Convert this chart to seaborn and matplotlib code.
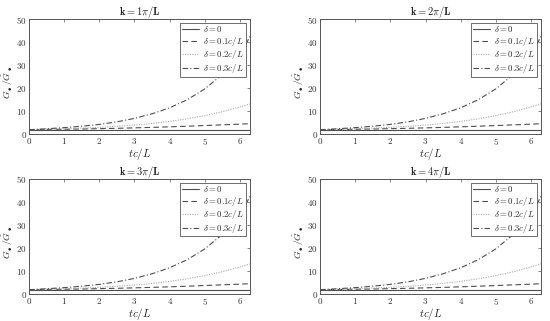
import numpy as np
import pandas as pd
import seaborn as sns
import matplotlib
matplotlib.use("Agg")
from matplotlib import pyplot as plt
from matplotlib.ticker import FuncFormatter

# values (same curves in every panel)
tc_L = [0, 0.5, 1, 1.5, 2, 2.5, 3, 3.5, 4, 4.5, 5, 5.5, 6, 6.2832]
delta_0 = [2.0] * 14
delta_01 = [2.0, 2.1, 2.2, 2.3, 2.45, 2.6, 2.8, 3.0, 3.25, 3.5, 3.8, 4.1, 4.4, 4.6]
delta_02 = [2.0, 2.2, 2.4, 2.7, 3.0, 3.5, 4.0, 4.7, 5.6, 6.7, 8.1, 9.8, 11.9, 13.2]
delta_03 = [2.0, 2.4, 2.9, 3.5, 4.3, 5.4, 6.9, 8.9, 11.5, 15.0, 19.7, 26.0, 34.0, 42.5]

k_values = [1, 2, 3, 4]
series_labels = [r'$\delta = 0$', r'$\delta = 0.1c/L$', r'$\delta = 0.2c/L$', r'$\delta = 0.3c/L$']
series_values = [delta_0, delta_01, delta_02, delta_03]
styles = [('#4d4d4d', '-'), ('#4d4d4d', (0, (5, 3))), ('#a8a8a8', (0, (1, 1.2))), ('#4d4d4d', (0, (5, 2, 1, 2)))]

sns.set_style("white")
plt.rcParams['mathtext.fontset'] = 'cm'
plt.rcParams['font.family'] = ['DejaVu Serif']
plt.rcParams['axes.edgecolor'] = '#555555'
plt.rcParams['axes.linewidth'] = 0.7

fig = plt.figure(figsize=(5.5, 3.21), dpi=100)
positions = [(0.0527, 0.5816), (0.5818, 0.5816), (0.0527, 0.0832), (0.5818, 0.0832)]
w, h = 0.4018, 0.3592

mfmt = FuncFormatter(lambda v, p: '$%g$' % v)

for k, (lx, by) in zip(k_values, positions):
    ax = fig.add_axes([lx, by, w, h])
    for lab, vals, (col, ls) in zip(series_labels, series_values, styles):
        df = pd.DataFrame({'t': tc_L, 'G': vals})
        sns.lineplot(data=df, x='t', y='G', ax=ax, color=col, linestyle=ls,
                     linewidth=0.8, label=lab)
    ax.set_xlim(0, 2 * np.pi)
    ax.set_ylim(0, 50)
    ax.set_xticks(range(0, 7))
    ax.set_yticks(range(0, 51, 10))
    ax.xaxis.set_major_formatter(mfmt)
    ax.yaxis.set_major_formatter(mfmt)
    ax.tick_params(direction='in', top=True, right=True, length=2.5, width=0.5,
                   labelsize=6.5, colors='#555555', labelcolor='#333333', pad=1.5)
    ax.set_xlabel(r'$tc/L$', fontsize=8, color='#222222')
    ax.xaxis.set_label_coords(0.5, -0.1)
    ax.set_ylabel(r'$G_\bullet/\hat{G}_\bullet$', fontsize=7, color='#222222')
    ax.yaxis.set_label_coords(-0.062, 0.45)
    ax.set_title(r'$\mathbf{k = %d\pi/L}$' % k, fontsize=7.5, color='#222222', pad=3)
    leg = ax.legend(loc='upper right', bbox_to_anchor=(0.98, 0.968), borderaxespad=0,
                    fontsize=6.3, handlelength=1.95, handletextpad=0.45, labelspacing=0.05,
                    borderpad=0.2, fancybox=False, framealpha=1, edgecolor='#555555')
    leg.get_frame().set_linewidth(0.6)

plt.savefig('out.png', dpi=100)
